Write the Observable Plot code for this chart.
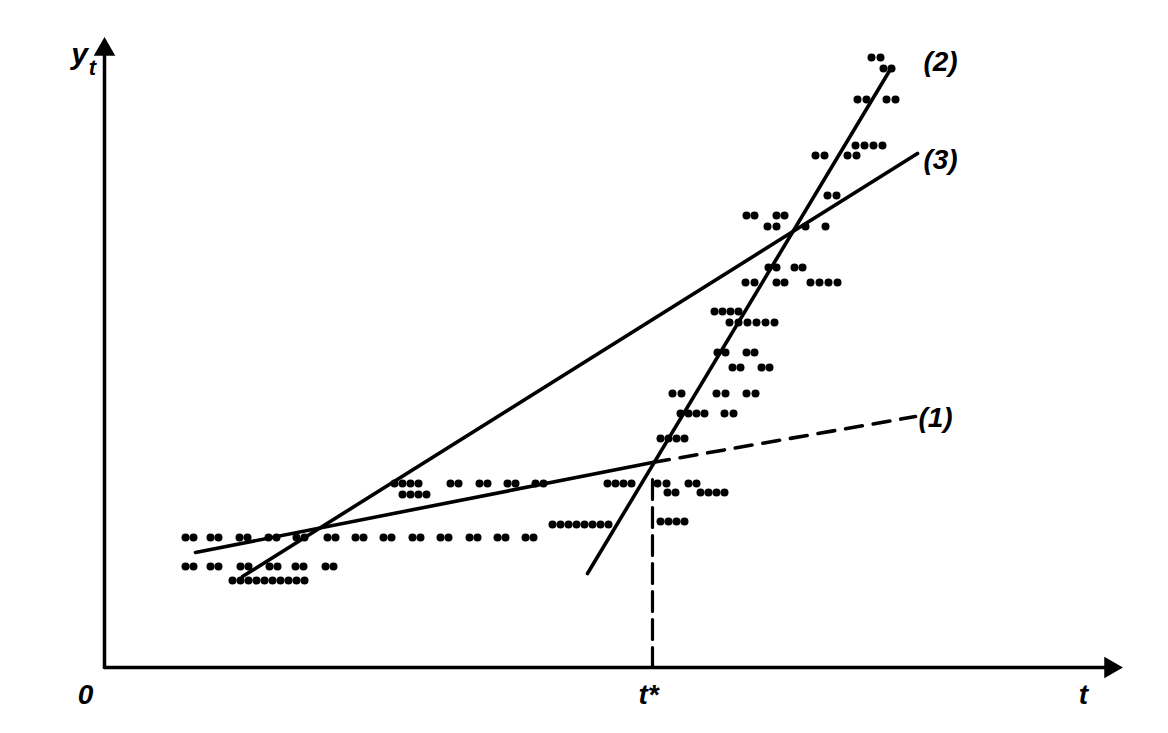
<!DOCTYPE html>
<html>
<head>
<meta charset="utf-8">
<script src="https://cdn.jsdelivr.net/npm/d3@7"></script>
<script src="https://cdn.jsdelivr.net/npm/@observablehq/plot@0.6"></script>
<style>
  html, body { margin: 0; padding: 0; background: #fff; }
  #chart svg { display: block; }
</style>
</head>
<body>
<div id="chart"></div>
<script>
// ---- data (t along horizontal axis, y_t along vertical axis; origin at 0,0) ----
// observation rows: one level of y_t and the t positions of the dots on it
const rowY = [130, 101, 87, 184, 173, 143, 184, 175, 146,
              229, 254, 274, 300, 315, 345, 356, 385, 400, 441, 452, 472, 512, 522, 568, 599, 610];
const rowT = [
  [81,89,106,114,135,143,164,172,192,200,223,231,251,259,279,287,308,316,336,344,365,373,393,401,421,429],
  [81,89,106,114,136,144,165,173,191,199,221,229],
  [128,136,144,152,160,168,176,184,192,200],
  [290,298,306,314,346,354,375,383,403,411,431,439],
  [298,306,314,322],
  [448,456,464,472,480,488,496,504],
  [503,511,519,527,553,562,584,592],
  [563,571,596,604,612,620],
  [556,564,572,580],
  [556,564,572,580],
  [576,584,592,600,620,629],
  [568,577,612,621,642,651],
  [628,636,657,665],
  [613,621,642,650],
  [625,634,643,652,661,670],
  [610,618,626,634],
  [641,650,672,680,706,715,724,733],
  [664,672,690,698],
  [663,672,701,721],
  [642,650,672,680],
  [723,732],
  [711,720,743,752],
  [751,760,769,778],
  [753,762,782,791],
  [779,787],
  [767,776]
];

// fitted lines
const tStar = 548;
const line1T = [91, 548];  const line1Y = [115, 205];   // (1) before t*
const line1dT = [548, 811]; const line1dY = [205, 251]; // (1) extrapolated
const line2T = [483, 787]; const line2Y = [94, 600];    // (2)
const line3T = [138, 813]; const line3Y = [91, 514];    // (3)
const tStarTop = 189;

// axes
const axisEndT = 1006;
const axisEndY = 618;

// labels
const labelText = ["0", "t*", "t", "(1)", "(2)", "(3)"];
const labelT = [-19, 544, 979, 831, 836, 836];
const labelY = [-28, -28, -28, 249, 605, 507];

// ---- build tables ----
const dots = rowY.flatMap((y, i) => rowT[i].map(t => ({t, y})));
const seg = (T, Y) => T.map((t, i) => ({t, y: Y[i]}));
const labels = labelText.map((s, i) => ({s, t: labelT[i], y: labelY[i]}));

const font = "'Liberation Sans', Arial, sans-serif";

const chart = Plot.plot({
  width: 1168,
  height: 733,
  margin: 0,
  x: {domain: [-104, 1064], axis: null},
  y: {domain: [-66, 667], axis: null},
  marks: [
    // axes
    Plot.line(seg([0, axisEndT], [0, 0]), {x: "t", y: "y", stroke: "black", strokeWidth: 3.5}),
    Plot.line(seg([0, 0], [0, axisEndY]), {x: "t", y: "y", stroke: "black", strokeWidth: 3.5}),
    Plot.dot([{t: axisEndT, y: 0}], {x: "t", y: "y", symbol: "triangle", r: 8, fill: "black", rotate: 90}),
    Plot.dot([{t: 0, y: axisEndY}], {x: "t", y: "y", symbol: "triangle", r: 8, fill: "black"}),
    // t* marker
    Plot.line(seg([tStar, tStar], [0, tStarTop]), {x: "t", y: "y", stroke: "black", strokeWidth: 3.2, strokeDasharray: "20,8"}),
    // observations
    Plot.dot(dots, {x: "t", y: "y", r: 4, fill: "black", stroke: "none"}),
    // lines
    Plot.line(seg(line1T, line1Y), {x: "t", y: "y", stroke: "black", strokeWidth: 3.6}),
    Plot.line(seg(line1dT, line1dY), {x: "t", y: "y", stroke: "black", strokeWidth: 3.6, strokeDasharray: "17,11"}),
    Plot.line(seg(line2T, line2Y), {x: "t", y: "y", stroke: "black", strokeWidth: 3.6}),
    Plot.line(seg(line3T, line3Y), {x: "t", y: "y", stroke: "black", strokeWidth: 3.6}),
    // labels
    Plot.text(labels, {x: "t", y: "y", text: "s", fontSize: 28, fontStyle: "italic", fontWeight: "bold", fontFamily: font, fill: "black"}),
    Plot.text([{t: -25, y: 613}], {x: "t", y: "y", text: () => "y", fontSize: 30, fontStyle: "italic", fontWeight: "bold", fontFamily: font, fill: "black"}),
    Plot.text([{t: -12, y: 600}], {x: "t", y: "y", text: () => "t", fontSize: 22, fontStyle: "italic", fontWeight: "bold", fontFamily: font, fill: "black"})
  ]
});
document.getElementById("chart").appendChild(chart);
</script>
</body>
</html>
